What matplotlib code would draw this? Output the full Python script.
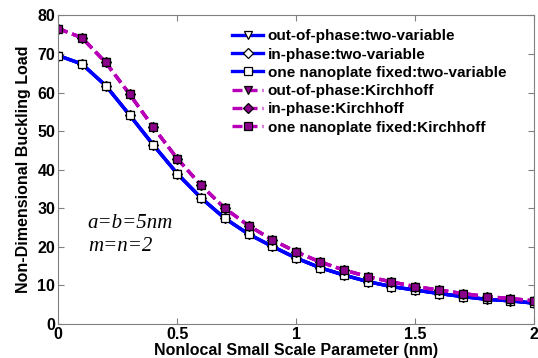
import numpy as np
import matplotlib.pyplot as plt

# datos
mu = [0.0, 0.1, 0.2, 0.3, 0.4, 0.5, 0.6, 0.7, 0.8, 0.9, 1.0,
      1.1, 1.2, 1.3, 1.4, 1.5, 1.6, 1.7, 1.8, 1.9, 2.0]
two_variable = [69.6, 67.4, 61.8, 54.2, 46.4, 39.0, 32.7, 27.4, 23.3, 20.1, 17.1,
                14.6, 12.7, 11.0, 9.7, 8.8, 7.9, 7.1, 6.4, 6.0, 5.4]
kirchhoff = [76.6, 74.2, 67.8, 59.6, 51.0, 42.9, 36.0, 30.0, 25.5, 21.8, 18.7,
             16.1, 14.0, 12.3, 10.9, 9.7, 8.8, 7.9, 7.1, 6.6, 6.0]
casos = ['out-of-phase', 'in-phase', 'one nanoplate fixed']
marcadores = ['v', 'D', 's']

plt.rcParams['font.family'] = ['Liberation Sans', 'DejaVu Sans']
plt.rcParams['font.weight'] = 'bold'

fig = plt.figure(figsize=(5.38, 3.58), dpi=100)
ax = fig.add_axes([0.108, 0.095, 0.885, 0.862])

# curvas two-variable (azul, continua)
for caso, m in zip(casos, marcadores):
    ax.plot(mu, two_variable, color='#0000ff', lw=2.4, marker=m,
            ms=6 if m != 'D' else 5, mfc='white', mec='black', mew=0.9,
            label=caso + ':two-variable')

# curvas Kirchhoff (magenta, discontinua)
for caso, m in zip(casos, marcadores):
    ax.plot(mu, kirchhoff, color='#b800b8', lw=2.4, ls='--', dashes=(3, 1.5),
            marker=m, ms=6 if m != 'D' else 5, mfc='#8b008b', mec='black',
            mew=0.9, label=caso + ':Kirchhoff')

ax.set_xlim(0, 2)
ax.set_ylim(0, 80)
ax.set_xticks([0, 0.5, 1, 1.5, 2])
ax.set_xticklabels(['0', '0.5', '1', '1.5', '2'])
ax.set_yticks(np.arange(0, 81, 10))
ax.tick_params(direction='in', top=True, right=True, labelsize=11.5,
               length=4, color='#808080', pad=2)
for s in ax.spines.values():
    s.set_color('#808080')

ax.set_xlabel('Nonlocal Small Scale Parameter (nm)', fontsize=11.5,
              fontweight='bold', labelpad=1)
ax.set_ylabel('Non-Dimensional Buckling Load', fontsize=11.5,
              fontweight='bold', labelpad=5)

ax.text(0.125, 26, 'a=b=5nm', fontsize=15, style='italic',
        family='Liberation Serif', fontweight='normal', va='center')
ax.text(0.125, 20.2, 'm=n=2', fontsize=15, style='italic',
        family='Liberation Serif', fontweight='normal', va='center')

ax.legend(loc='upper left', bbox_to_anchor=(0.366, 0.955), frameon=False,
          fontsize=11, handlelength=2.0, handletextpad=0.3,
          labelspacing=0.28, borderpad=0, borderaxespad=0)

fig.savefig('out.png', dpi=100)
